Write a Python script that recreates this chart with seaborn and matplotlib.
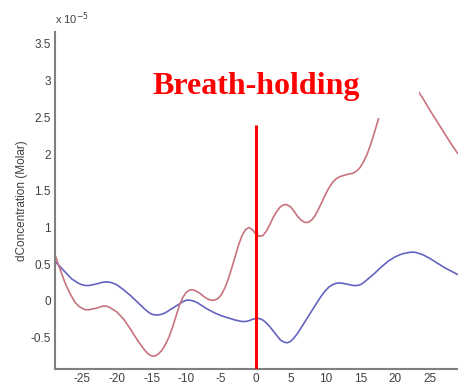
import numpy as np
import pandas as pd
import matplotlib
matplotlib.use("Agg")
import matplotlib.pyplot as plt
from matplotlib.patches import Rectangle
import seaborn as sns

# time (s) relative to breath-hold onset, concentration change in units of 1e-5 M
blue_t = [-29, -28.5, -28, -27.5, -27, -26.5, -26, -25.5, -25, -24.5, -24, -23, -22, -21.5, -21,
          -20.5, -20, -19, -18, -17, -16, -15.5, -15, -14.5, -14, -13.5, -13, -12, -11, -10.5,
          -10, -9.5, -9, -8.5, -8, -7, -6, -5, -4, -3, -2, -1.5, -1, -0.5, 0,
          0.5, 1, 1.5, 2, 2.5, 3, 3.5, 4, 4.5, 5, 5.5, 6, 7, 8, 9,
          9.5, 10, 10.5, 11, 11.5, 12, 12.5, 13, 14, 14.5, 15, 15.5, 16, 17, 18,
          19, 20, 21, 22, 22.5, 23, 24, 25, 26, 27, 28, 29]
blue_c = [0.55, 0.50, 0.45, 0.40, 0.35, 0.30, 0.27, 0.24, 0.22, 0.21, 0.21, 0.23, 0.255, 0.26, 0.255,
          0.24, 0.22, 0.15, 0.07, -0.02, -0.11, -0.15, -0.18, -0.19, -0.19, -0.18, -0.16, -0.10, -0.04, -0.01,
          0.01, 0.01, 0.00, -0.02, -0.05, -0.11, -0.16, -0.20, -0.23, -0.26, -0.28, -0.28, -0.27, -0.25, -0.24,
          -0.24, -0.26, -0.30, -0.35, -0.41, -0.47, -0.53, -0.56, -0.57, -0.55, -0.50, -0.44, -0.29, -0.14, 0.01,
          0.08, 0.14, 0.19, 0.22, 0.24, 0.245, 0.24, 0.23, 0.21, 0.21, 0.22, 0.25, 0.29, 0.37, 0.46,
          0.54, 0.60, 0.64, 0.66, 0.665, 0.66, 0.63, 0.58, 0.52, 0.46, 0.41, 0.36]

red_t = [-29, -28.5, -28, -27.5, -27, -26.5, -26, -25.5, -25, -24.5, -24, -23, -22, -21.5, -21,
         -20, -19, -18, -17, -16, -15.5, -15, -14.5, -14, -13.5, -13, -12.5, -12, -11.5, -11,
         -10.5, -10, -9.5, -9, -8.5, -8, -7.5, -7, -6.5, -6, -5.5, -5, -4.5, -4, -3.5,
         -3, -2.5, -2, -1.5, -1, -0.5, 0, 0.5, 1, 1.5, 2, 2.5, 3, 3.5, 4,
         4.5, 5, 5.5, 6, 6.5, 7, 7.5, 8, 8.5, 9, 9.5, 10, 10.5, 11, 11.5,
         12, 13, 14, 14.5, 15, 15.5, 16, 16.5, 17, 17.5, 18, 19, 20, 21, 22,
         23, 24, 25, 26, 27, 28, 29]
red_c = [0.66, 0.52, 0.39, 0.26, 0.15, 0.06, -0.02, -0.07, -0.10, -0.12, -0.12, -0.10, -0.07, -0.07, -0.09,
         -0.15, -0.25, -0.39, -0.54, -0.67, -0.72, -0.75, -0.75, -0.72, -0.67, -0.59, -0.49, -0.36, -0.21, -0.06,
         0.05, 0.12, 0.15, 0.15, 0.13, 0.10, 0.06, 0.03, 0.01, 0.01, 0.03, 0.08, 0.17, 0.29, 0.44,
         0.60, 0.76, 0.89, 0.97, 1.00, 0.97, 0.91, 0.88, 0.89, 0.95, 1.04, 1.14, 1.22, 1.28, 1.31,
         1.31, 1.28, 1.22, 1.15, 1.10, 1.07, 1.07, 1.10, 1.16, 1.25, 1.35, 1.45, 1.54, 1.61, 1.66,
         1.69, 1.72, 1.74, 1.77, 1.82, 1.90, 2.00, 2.13, 2.28, 2.44, 2.60, 2.85, 3.00, 3.05, 3.00,
         2.90, 2.76, 2.60, 2.45, 2.30, 2.15, 2.01]

x_ticks = [-25, -20, -15, -10, -5, 0, 5, 10, 15, 20, 25]
y_ticks = [-0.5, 0, 0.5, 1, 1.5, 2, 2.5, 3, 3.5]
onset_t = 0
onset_top = 2.39

df = pd.concat([
    pd.DataFrame({"t": blue_t, "c": blue_c, "series": "blue"}),
    pd.DataFrame({"t": red_t, "c": red_c, "series": "red"}),
])

sns.set_style("white")
plt.rcParams["font.family"] = ["Liberation Sans", "DejaVu Sans"]
plt.rcParams["axes.unicode_minus"] = False

fig = plt.figure(figsize=(4.58, 3.92), dpi=100)
ax = fig.add_axes([0.120, 0.059, 0.880, 0.859])

sns.lineplot(data=df, x="t", y="c", hue="series", sort=False,
             palette={"blue": "#6464c0", "red": "#c8737e"},
             linewidth=1.2, legend=False, ax=ax)

ax.set_xlim(-28.9, 29.06)
ax.set_ylim(-0.925, 3.66)
ax.set_xticks(x_ticks)
ax.set_yticks(y_ticks)
ax.set_xticklabels([f"{v:g}" for v in x_ticks])
ax.set_yticklabels([f"{v:g}" for v in y_ticks])
ax.tick_params(direction="in", length=4, width=1, color="#808080",
               labelsize=8.5, labelcolor="#404040", pad=3)
for side in ["top", "right"]:
    ax.spines[side].set_visible(False)
for side in ["left", "bottom"]:
    ax.spines[side].set_color("#808080")
    ax.spines[side].set_linewidth(1.5)
ax.set_xlabel("")
ax.set_ylabel("dConcentration (Molar)", fontsize=8.5, color="#404040", labelpad=2)
ax.text(0.0, 1.015, "x 10$^{-5}$", transform=ax.transAxes, fontsize=8,
        color="#404040", ha="left", va="bottom")

# breath-hold onset marker
ax.vlines(onset_t, -0.925, onset_top, color="#ff0000", linewidth=2.2, zorder=5)

# white label box hides part of the red trace
ax.add_patch(Rectangle((-23.5, 2.49), 47.0, 1.0, facecolor="white",
                       edgecolor="none", zorder=6))
ax.text(0, 2.92, "Breath-holding", fontsize=23, fontweight="bold",
        family=["Liberation Serif", "DejaVu Serif"], color="#ff0000",
        ha="center", va="center", zorder=7)

fig.savefig("out.png", dpi=100)
